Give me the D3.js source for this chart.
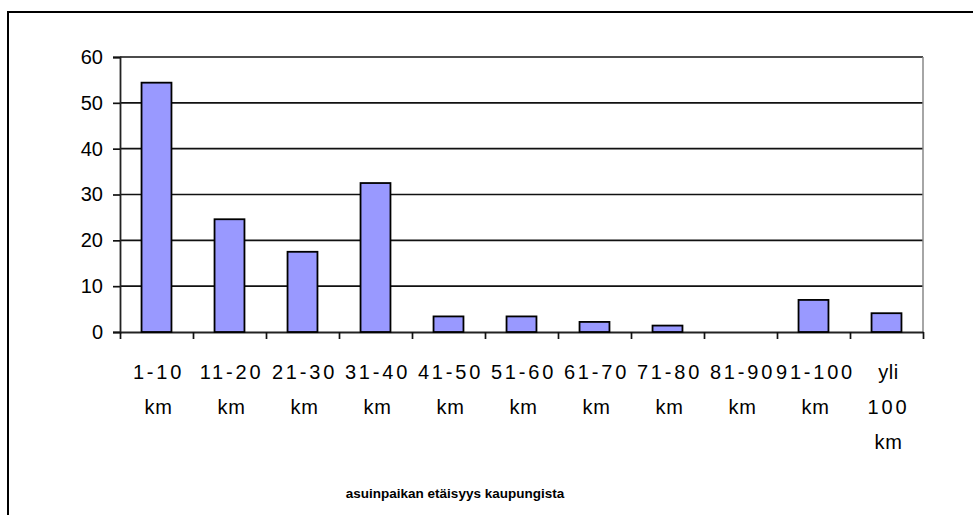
<!DOCTYPE html>
<html>
<head>
<meta charset="utf-8">
<script src="https://cdn.jsdelivr.net/npm/d3@7"></script>
<style>
  body { margin: 0; background: #fff; }
  text { font-family: Arial, "Liberation Sans", sans-serif; }
</style>
</head>
<body>
<div class="draw-barchart"></div>
<script>
const categories = [
  "1-10 km", "11-20 km", "21-30 km", "31-40 km", "41-50 km", "51-60 km",
  "61-70 km", "71-80 km", "81-90 km", "91-100 km", "yli 100 km"
];
// wrapped label lines as shown under the axis
const labelLines = [
  ["1-10", "km"], ["11-20", "km"], ["21-30", "km"], ["31-40", "km"],
  ["41-50", "km"], ["51-60", "km"], ["61-70", "km"], ["71-80", "km"],
  ["81-90", "km"], ["91-100", "km"], ["yli", "100", "km"]
];
const values = [54.4, 24.6, 17.5, 32.5, 3.4, 3.4, 2.2, 1.4, 0, 7.0, 4.1];
const yTicks = [0, 10, 20, 30, 40, 50, 60];
const axisTitle = "asuinpaikan etäisyys kaupungista";

const draw = () => {
  const W = 973, H = 515;
  let margin = { top: 57, right: 50, bottom: 183, left: 120 };
  const width = W - margin.left - margin.right;
  const height = H - margin.top - margin.bottom;

  let svg = d3
    .select(".draw-barchart")
    .append("svg")
    .attr("width", W)
    .attr("height", H);

  svg.append("rect").attr("width", W).attr("height", H).attr("fill", "#fff");

  // chart frame (runs off the right and bottom edge)
  svg
    .append("rect")
    .attr("x", 8)
    .attr("y", 12)
    .attr("width", 1100)
    .attr("height", 700)
    .attr("fill", "none")
    .attr("stroke", "#000")
    .attr("stroke-width", 2);

  let g = svg
    .append("g")
    .attr("transform", "translate(" + margin.left + "," + margin.top + ")");

  let x = d3.scaleBand().domain(categories).range([0, width]).paddingInner(0.59).paddingOuter(0.295);
  let xb = d3.scaleLinear().domain([0, categories.length]).range([0, width]);
  let y = d3.scaleLinear().domain([0, 60]).range([height, 0]);

  // gridlines
  g.append("g")
    .selectAll("line")
    .data(yTicks.filter((d) => d > 0))
    .join("line")
    .attr("x1", 0)
    .attr("x2", width)
    .attr("y1", (d) => y(d))
    .attr("y2", (d) => y(d))
    .attr("stroke", "#111")
    .attr("stroke-width", 1.7);

  // right border of plot area
  g.append("line")
    .attr("x1", width)
    .attr("x2", width)
    .attr("y1", 0)
    .attr("y2", height)
    .attr("stroke", "#888")
    .attr("stroke-width", 1.5);

  // Y axis
  let yAxis = g
    .append("g")
    .call(d3.axisLeft(y).tickValues(yTicks).tickSize(7).tickPadding(10));
  yAxis.select(".domain").attr("stroke", "#222").attr("stroke-width", 1.8);
  yAxis.selectAll(".tick line").attr("stroke", "#111").attr("stroke-width", 1.7);
  yAxis
    .selectAll(".tick text")
    .attr("font-size", 20)
    .attr("fill", "#000")
    .style("font-family", "Arial, 'Liberation Sans', sans-serif");

  // X axis with ticks on category boundaries
  let xAxis = g
    .append("g")
    .attr("transform", "translate(0," + height + ")")
    .call(
      d3.axisBottom(xb)
        .tickValues(d3.range(categories.length + 1))
        .tickSize(7)
        .tickSizeOuter(0)
        .tickFormat("")
    );
  xAxis.select(".domain").attr("stroke", "#222").attr("stroke-width", 1.8);
  xAxis.selectAll(".tick line").attr("stroke", "#111").attr("stroke-width", 1.7);

  // bars
  g.append("g")
    .selectAll("rect")
    .data(values)
    .join("rect")
    .attr("x", (d, i) => x(categories[i]))
    .attr("width", x.bandwidth())
    .attr("y", (d) => y(d))
    .attr("height", (d) => height - y(d))
    .attr("fill", "#9999ff")
    .attr("stroke", "#000")
    .attr("stroke-width", 1.8)
    .attr("display", (d) => (d > 0 ? null : "none"));

  // category labels
  let labels = g
    .append("g")
    .selectAll("text")
    .data(labelLines)
    .join("text")
    .attr("text-anchor", "middle")
    .attr("font-size", 20)
    .attr("fill", "#000")
    .attr("transform", (d, i) => "translate(" + (x(categories[i]) + x.bandwidth() / 2 + 2) + "," + (height + 47) + ")");
  labels
    .selectAll("tspan")
    .data((d) => d)
    .join("tspan")
    .attr("x", 0)
    .attr("y", (d, i) => i * 35)
    .attr("letter-spacing", (d) => (/\d/.test(d) ? 2.8 : 0.6))
    .text((d) => d);

  // axis title (clipped at the right like in the original)
  svg
    .append("clipPath")
    .attr("id", "titleclip")
    .append("rect")
    .attr("x", 0)
    .attr("y", 450)
    .attr("width", 565)
    .attr("height", 65);
  svg
    .append("text")
    .attr("clip-path", "url(#titleclip)")
    .attr("x", 455)
    .attr("y", 498)
    .attr("text-anchor", "middle")
    .attr("font-size", 13.5)
    .attr("font-weight", "bold")
    .attr("fill", "#000")
    .text(axisTitle);
};

draw();
</script>
</body>
</html>
